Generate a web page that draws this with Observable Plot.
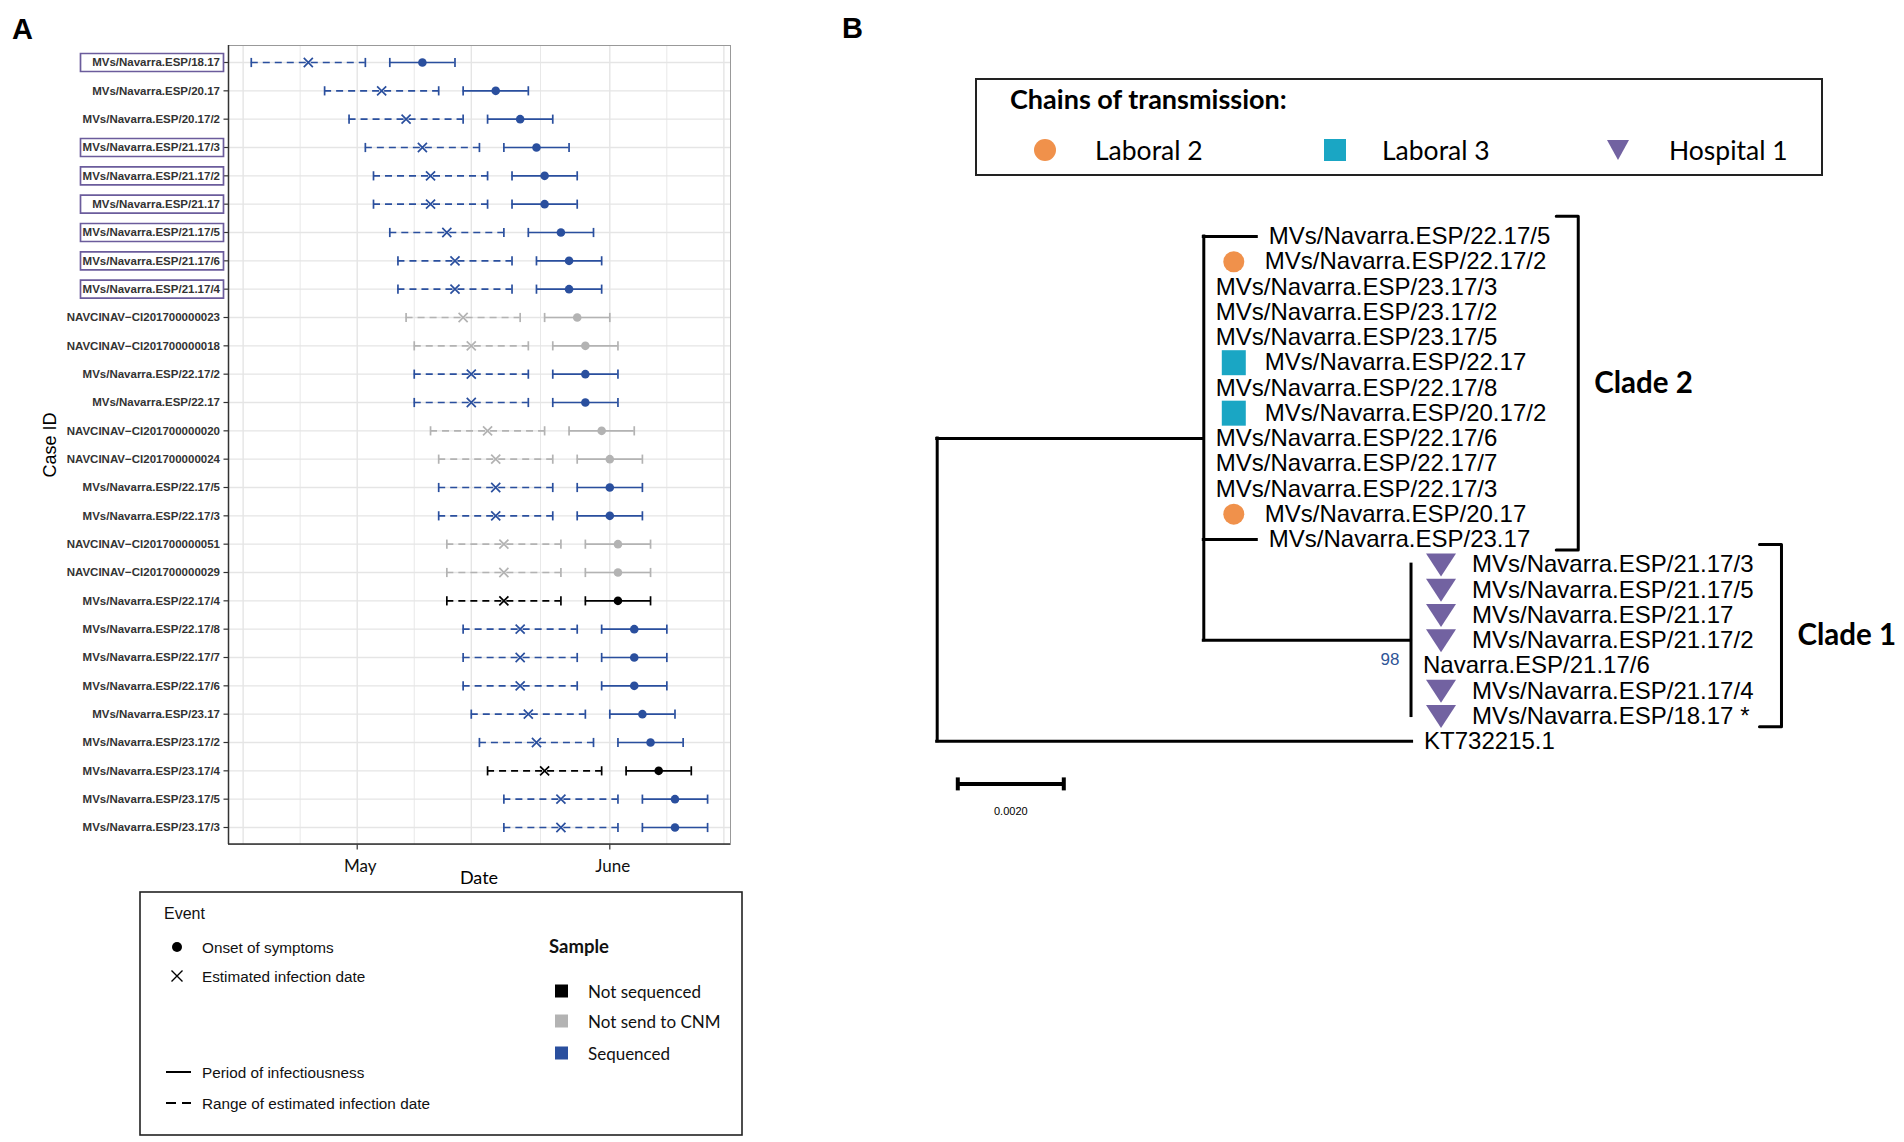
<!DOCTYPE html>
<html><head><meta charset="utf-8">
<script src="https://cdn.jsdelivr.net/npm/d3@7"></script>
<script src="https://cdn.jsdelivr.net/npm/@observablehq/plot@0.6"></script>
<style>
body{margin:0;background:#fff;}
#fig{position:relative;width:1904px;height:1142px;background:#fff;overflow:hidden;font-family:"Liberation Sans",Arial,sans-serif;}
#fig svg{max-width:none;}
</style></head><body><div id="fig"></div>
<script>
// ---------------- Panel A data ----------------
const M = "\u2212";
const caseIds = ["MVs/Navarra.ESP/18.17","MVs/Navarra.ESP/20.17","MVs/Navarra.ESP/20.17/2","MVs/Navarra.ESP/21.17/3","MVs/Navarra.ESP/21.17/2","MVs/Navarra.ESP/21.17","MVs/Navarra.ESP/21.17/5","MVs/Navarra.ESP/21.17/6","MVs/Navarra.ESP/21.17/4","NAVCINAV"+M+"CI201700000023","NAVCINAV"+M+"CI201700000018","MVs/Navarra.ESP/22.17/2","MVs/Navarra.ESP/22.17","NAVCINAV"+M+"CI201700000020","NAVCINAV"+M+"CI201700000024","MVs/Navarra.ESP/22.17/5","MVs/Navarra.ESP/22.17/3","NAVCINAV"+M+"CI201700000051","NAVCINAV"+M+"CI201700000029","MVs/Navarra.ESP/22.17/4","MVs/Navarra.ESP/22.17/8","MVs/Navarra.ESP/22.17/7","MVs/Navarra.ESP/22.17/6","MVs/Navarra.ESP/23.17","MVs/Navarra.ESP/23.17/2","MVs/Navarra.ESP/23.17/4","MVs/Navarra.ESP/23.17/5","MVs/Navarra.ESP/23.17/3"];
const S="Sequenced", G="Not send to CNM", K="Not sequenced";
const sampleStatus = [S,S,S,S,S,S,S,S,S,G,G,S,S,G,G,S,S,G,G,K,S,S,S,S,S,K,S,S];
const rangeStart = ["2017-04-18","2017-04-27","2017-04-30","2017-05-02","2017-05-03","2017-05-03","2017-05-05","2017-05-06","2017-05-06","2017-05-07","2017-05-08","2017-05-08","2017-05-08","2017-05-10","2017-05-11","2017-05-11","2017-05-11","2017-05-12","2017-05-12","2017-05-12","2017-05-14","2017-05-14","2017-05-14","2017-05-15","2017-05-16","2017-05-17","2017-05-19","2017-05-19"];
const estimatedInfection = ["2017-04-25","2017-05-04","2017-05-07","2017-05-09","2017-05-10","2017-05-10","2017-05-12","2017-05-13","2017-05-13","2017-05-14","2017-05-15","2017-05-15","2017-05-15","2017-05-17","2017-05-18","2017-05-18","2017-05-18","2017-05-19","2017-05-19","2017-05-19","2017-05-21","2017-05-21","2017-05-21","2017-05-22","2017-05-23","2017-05-24","2017-05-26","2017-05-26"];
const rangeEnd = ["2017-05-02","2017-05-11","2017-05-14","2017-05-16","2017-05-17","2017-05-17","2017-05-19","2017-05-20","2017-05-20","2017-05-21","2017-05-22","2017-05-22","2017-05-22","2017-05-24","2017-05-25","2017-05-25","2017-05-25","2017-05-26","2017-05-26","2017-05-26","2017-05-28","2017-05-28","2017-05-28","2017-05-29","2017-05-30","2017-05-31","2017-06-02","2017-06-02"];
const infectiousStart = ["2017-05-05","2017-05-14","2017-05-17","2017-05-19","2017-05-20","2017-05-20","2017-05-22","2017-05-23","2017-05-23","2017-05-24","2017-05-25","2017-05-25","2017-05-25","2017-05-27","2017-05-28","2017-05-28","2017-05-28","2017-05-29","2017-05-29","2017-05-29","2017-05-31","2017-05-31","2017-05-31","2017-06-01","2017-06-02","2017-06-03","2017-06-05","2017-06-05"];
const onsetDates = ["2017-05-09","2017-05-18","2017-05-21","2017-05-23","2017-05-24","2017-05-24","2017-05-26","2017-05-27","2017-05-27","2017-05-28","2017-05-29","2017-05-29","2017-05-29","2017-05-31","2017-06-01","2017-06-01","2017-06-01","2017-06-02","2017-06-02","2017-06-02","2017-06-04","2017-06-04","2017-06-04","2017-06-05","2017-06-06","2017-06-07","2017-06-09","2017-06-09"];
const infectiousEnd = ["2017-05-13","2017-05-22","2017-05-25","2017-05-27","2017-05-28","2017-05-28","2017-05-30","2017-05-31","2017-05-31","2017-06-01","2017-06-02","2017-06-02","2017-06-02","2017-06-04","2017-06-05","2017-06-05","2017-06-05","2017-06-06","2017-06-06","2017-06-06","2017-06-08","2017-06-08","2017-06-08","2017-06-09","2017-06-10","2017-06-11","2017-06-13","2017-06-13"];
const hospitalChainCases = ["MVs/Navarra.ESP/18.17","MVs/Navarra.ESP/21.17/3","MVs/Navarra.ESP/21.17/2","MVs/Navarra.ESP/21.17","MVs/Navarra.ESP/21.17/5","MVs/Navarra.ESP/21.17/6","MVs/Navarra.ESP/21.17/4"];
const sampleCategories = ["Not sequenced","Not send to CNM","Sequenced"];
const sampleColors = ["#000000","#b3b3b3","#2a4f9e"];
const monthTicks = [{date:"2017-05-01",label:"May"},{date:"2017-06-01",label:"June"}];
const gridMajor = ["2017-04-17","2017-05-01","2017-05-15","2017-06-01","2017-06-15"];
const gridMinor = ["2017-04-24","2017-05-08","2017-05-23T12:00:00Z","2017-06-08"];

// ---------------- Panel B data ----------------
const treeLeaves = ["MVs/Navarra.ESP/22.17/5","MVs/Navarra.ESP/22.17/2","MVs/Navarra.ESP/23.17/3","MVs/Navarra.ESP/23.17/2","MVs/Navarra.ESP/23.17/5","MVs/Navarra.ESP/22.17","MVs/Navarra.ESP/22.17/8","MVs/Navarra.ESP/20.17/2","MVs/Navarra.ESP/22.17/6","MVs/Navarra.ESP/22.17/7","MVs/Navarra.ESP/22.17/3","MVs/Navarra.ESP/20.17","MVs/Navarra.ESP/23.17","MVs/Navarra.ESP/21.17/3","MVs/Navarra.ESP/21.17/5","MVs/Navarra.ESP/21.17","MVs/Navarra.ESP/21.17/2","Navarra.ESP/21.17/6","MVs/Navarra.ESP/21.17/4","MVs/Navarra.ESP/18.17 *","KT732215.1"];
const leafParents = ["c2","c2","c2","c2","c2","c2","c2","c2","c2","c2","c2","c2","c2","c1","c1","c1","c1","c1","c1","c1","root"];
const leafBranchLengths = [0.001,0,0,0,0,0,0,0,0,0,0,0,0.001,0,0,0,0,0,0,0,0.00896];
const leafChains = [null,"Laboral 2",null,null,null,"Laboral 3",null,"Laboral 3",null,null,null,"Laboral 2",null,"Hospital 1","Hospital 1","Hospital 1","Hospital 1",null,"Hospital 1","Hospital 1",null];
const internalNodes = ["root","c2","c1"];
const internalParents = [null,"root","c2"];
const internalBranchLengths = [0,0.00503,0.00391];
const bootstrapValues = [{node:"c1", value:"98"}];
const clades = [{name:"Clade 2", first:0, last:12},{name:"Clade 1", first:13, last:19}];
const chainNames = ["Laboral 2","Laboral 3","Hospital 1"];
const chainColors = ["#f0914b","#1aa6c4","#7262a1"];
const scaleBar = {length:0.002, label:"0.0020"};

// ---------------- helpers ----------------
const fig = document.getElementById("fig");
function place(el,left,top){el.style.position="absolute";el.style.left=left+"px";el.style.top=top+"px";fig.appendChild(el);}
const vbar = {draw(c,size){const h=Math.sqrt(size/Math.PI);c.moveTo(0,-h);c.lineTo(0,h);}};
const hbar = {draw(c,size){const h=Math.sqrt(size/Math.PI);c.moveTo(-h,0);c.lineTo(h,0);}};
const boxSym = {draw(c){c.rect(-148,-9,143,18);}};
const circleSym = {draw(c){c.moveTo(10.5,0);c.arc(0,0,10.5,0,2*Math.PI);}};
const squareSym = {draw(c){c.rect(-12,-12.5,24,25);}};
const triSym = {draw(c){c.moveTo(-15,-11);c.lineTo(15,-11);c.lineTo(0,12);c.closePath();}};
const chainSymbols = [circleSym, squareSym, triSym];

// ---------------- Panel A plot ----------------
const rowsA = caseIds.map((id,i)=>({id, status:sampleStatus[i], rs:new Date(rangeStart[i]), est:new Date(estimatedInfection[i]), re:new Date(rangeEnd[i]), is:new Date(infectiousStart[i]), onset:new Date(onsetDates[i]), ie:new Date(infectiousEnd[i])}));
const W_A=760, H_A=900, mL=228, mR=30, mT=45, mB=56;
const xDomainA = [new Date("2017-04-15T04:55:00Z"), new Date("2017-06-15T19:30:00Z")];
const x0 = () => xDomainA[0];
const lw = 1.7;
const plotA = Plot.plot({
  width:W_A, height:H_A, marginLeft:mL, marginRight:mR, marginTop:mT, marginBottom:mB,
  style:{fontFamily:"Liberation Sans, Arial, sans-serif", background:"transparent", overflow:"visible"},
  x:{type:"utc", domain:xDomainA, axis:null},
  y:{type:"point", domain:caseIds, padding:0.6, round:false, axis:null},
  color:{domain:sampleCategories, range:sampleColors},
  marks:[
    Plot.ruleX(gridMinor.map(d=>new Date(d)), {stroke:"#e8e8e8", strokeWidth:1}),
    Plot.ruleX(gridMajor.map(d=>new Date(d)), {stroke:"#e3e3e3", strokeWidth:1.3}),
    Plot.ruleY(caseIds, {stroke:"#e5e5e5", strokeWidth:1.3}),
    Plot.frame({stroke:"#999", strokeWidth:1}),
    Plot.ruleX([xDomainA[0]], {stroke:"#333", strokeWidth:1.5}),
    Plot.ruleY(rowsA, {y:"id", x1:"rs", x2:"re", stroke:"status", strokeWidth:lw, strokeDasharray:"7,5"}),
    Plot.ruleY(rowsA, {y:"id", x1:"is", x2:"ie", stroke:"status", strokeWidth:lw}),
    Plot.dot(rowsA, {x:"rs", y:"id", symbol:vbar, r:4.6, stroke:"status", strokeWidth:lw, fill:"none"}),
    Plot.dot(rowsA, {x:"re", y:"id", symbol:vbar, r:4.6, stroke:"status", strokeWidth:lw, fill:"none"}),
    Plot.dot(rowsA, {x:"is", y:"id", symbol:vbar, r:4.6, stroke:"status", strokeWidth:lw, fill:"none"}),
    Plot.dot(rowsA, {x:"ie", y:"id", symbol:vbar, r:4.6, stroke:"status", strokeWidth:lw, fill:"none"}),
    Plot.dot(rowsA, {x:"est", y:"id", symbol:"times", r:4.2, stroke:"status", strokeWidth:lw, fill:"none"}),
    Plot.dot(rowsA, {x:"onset", y:"id", r:4.3, fill:"status", stroke:"none"}),
    Plot.dot(rowsA, {x:x0, y:"id", symbol:hbar, r:2.5, dx:-2.5, stroke:"#333", strokeWidth:1.2, fill:"none"}),
    Plot.text(rowsA, {x:x0, y:"id", text:"id", textAnchor:"end", dx:-8.5, fontSize:11.5, fontWeight:"bold", fill:"#333"}),
    Plot.dot(hospitalChainCases, {x:x0, y:d=>d, symbol:boxSym, stroke:"#6b5c9c", strokeWidth:1.7, fill:"none"}),
    Plot.dot(monthTicks, {x:d=>new Date(d.date), frameAnchor:"bottom", symbol:vbar, r:2.5, dy:2.5, stroke:"#333", strokeWidth:1.2, fill:"none"}),
    Plot.text(monthTicks, {x:d=>new Date(d.date), text:"label", frameAnchor:"bottom", lineAnchor:"top", dy:15, dx:3, fontFamily:"Lato, sans-serif", fontSize:17, fill:"#111"})
  ]
});
{
  const xr = plotA.scale("x").range;
  d3.select(plotA).append("line").attr("x1",xr[0]).attr("x2",xr[1]).attr("y1",H_A-mB).attr("y2",H_A-mB).attr("stroke","#333").attr("stroke-width",1.5);
}
place(plotA,0,0);

// ---------------- Panel B tree ----------------
const nodes = new Map();
internalNodes.forEach((id,i)=>nodes.set(id,{id, parent:internalParents[i], len:internalBranchLengths[i], leaf:false, children:[]}));
treeLeaves.forEach((name,i)=>nodes.set(name,{id:name, name, parent:leafParents[i], len:leafBranchLengths[i], leaf:true, chain:leafChains[i], y:i, children:[]}));
for (const n of nodes.values()) if (n.parent) nodes.get(n.parent).children.push(n);
(function setX(n, base){ n.x = base + n.len; n.children.forEach(c=>setX(c,n.x)); })(nodes.get("root"), 0);
(function setY(n){ if (n.leaf) return n.y; const ys = n.children.map(setY); n.y = (d3.min(ys)+d3.max(ys))/2; n.ymin=d3.min(ys); n.ymax=d3.max(ys); return n.y; })(nodes.get("root"));
const internals = internalNodes.map(id=>nodes.get(id));
const leaves = treeLeaves.map(n=>nodes.get(n));
const horizontals = [...nodes.values()].filter(n=>n.parent && n.len>0).map(n=>({x1:nodes.get(n.parent).x, x2:n.x, y:n.y}));

const W_T=1004, H_T=640;
const xDomT=[0,0.016], xRangeT=[36.7,884.7];
const xsT = Plot.scale({x:{domain:xDomT, range:xRangeT}});
const treeFont = 24;
const ctx = document.createElement("canvas").getContext("2d");
ctx.font = treeFont+"px 'Liberation Sans', Arial, sans-serif";
const labelDx = n => n.chain ? 61 : 12;
const bracketPts = [], cladeLabels = [];
for (const c of clades) {
  const ls = leaves.slice(c.first, c.last+1);
  const endPx = d3.max(ls, n => xsT.apply(n.x) + labelDx(n) + ctx.measureText(n.name).width);
  const bx = xsT.invert(endPx + 28), tx = xsT.invert(endPx + 6);
  const y1 = c.first - 0.8, y2 = c.last + 0.42;
  bracketPts.push({clade:c.name,x:tx,y:y1},{clade:c.name,x:bx,y:y1},{clade:c.name,x:bx,y:y2},{clade:c.name,x:tx,y:y2});
  cladeLabels.push({name:c.name, x:bx, y:(y1+y2)/2});
}
const bootRows = bootstrapValues.map(b=>({x:nodes.get(b.node).x, y:nodes.get(b.node).y, value:b.value}));
const lastRow = treeLeaves.length-1;
const treeMarks = [
  Plot.ruleX(internals, {x:"x", y1:"ymin", y2:"ymax", stroke:"#000", strokeWidth:3, strokeLinecap:"square"}),
  Plot.ruleY(horizontals, {x1:"x1", x2:"x2", y:"y", stroke:"#000", strokeWidth:3, strokeLinecap:"square"}),
  Plot.text(leaves.filter(n=>!n.chain), {x:"x", y:"y", text:"name", dx:12, textAnchor:"start", fontSize:treeFont, fill:"#000"}),
  Plot.text(leaves.filter(n=>n.chain), {x:"x", y:"y", text:"name", dx:61, textAnchor:"start", fontSize:treeFont, fill:"#000"}),
  Plot.text(bootRows, {x:"x", y:"y", text:"value", dx:-21, dy:19, fontSize:17, fill:"#2f5597"}),
  Plot.line(bracketPts, {x:"x", y:"y", z:"clade", stroke:"#000", strokeWidth:3, strokeLinejoin:"round"}),
  Plot.text(cladeLabels, {x:"x", y:"y", text:"name", dx:16, textAnchor:"start", fontFamily:"Lato, sans-serif", fontWeight:"bold", fontSize:29.5, fill:"#000"}),
  Plot.ruleY([scaleBar], {x1:()=>0, x2:d=>d.length, y:()=>lastRow, dx:20.6, dy:42.6, stroke:"#000", strokeWidth:4}),
  Plot.dot([0, scaleBar.length], {x:d=>d, y:()=>lastRow, dx:20.6, dy:42.6, symbol:vbar, r:6.5, stroke:"#000", strokeWidth:4, fill:"none"}),
  Plot.text([scaleBar], {x:d=>d.length/2, y:()=>lastRow, dx:20.6, dy:70, text:"label", fontSize:11, fill:"#000"})
];
chainNames.forEach((ch,i)=>{
  treeMarks.push(Plot.dot(leaves.filter(n=>n.chain===ch), {x:"x", y:"y", dx:30, symbol:chainSymbols[i], fill:chainColors[i], stroke:"none"}));
});
const plotT = Plot.plot({
  width:W_T, height:H_T, margin:0,
  style:{fontFamily:"Liberation Sans, Arial, sans-serif", background:"transparent", overflow:"visible"},
  x:{domain:xDomT, range:xRangeT, axis:null},
  y:{domain:[0,lastRow], range:[36,540.8], axis:null},
  marks:treeMarks
});
place(plotT,900,200);

// ---------------- Annotations, titles and legends ----------------
const lato = "Lato, sans-serif", lib = "Liberation Sans, Arial, sans-serif";
const ann = `<svg xmlns="http://www.w3.org/2000/svg" width="1904" height="1142" style="position:absolute;left:0;top:0;pointer-events:none">
<text x="12" y="39" font-family="${lib}" font-weight="bold" font-size="29">A</text>
<text x="842" y="38" font-family="${lib}" font-weight="bold" font-size="29">B</text>
<text transform="translate(56,445) rotate(-90)" text-anchor="middle" font-family="${lib}" font-size="18">Case ID</text>
<text x="479" y="884" text-anchor="middle" font-family="${lato}" font-size="18">Date</text>
<rect x="140" y="892" width="602" height="243" fill="none" stroke="#222" stroke-width="1.6"/>
<g font-family="${lib}" font-size="15.3" dominant-baseline="central" fill="#111">
<text x="164" y="913" font-size="16">Event</text>
<circle cx="177" cy="947" r="5" fill="#000"/>
<text x="202" y="947">Onset of symptoms</text>
<path d="M171.5,970.5L182.5,981.5M182.5,970.5L171.5,981.5" stroke="#000" stroke-width="1.4"/>
<text x="202" y="976">Estimated infection date</text>
<line x1="166" x2="191" y1="1072" y2="1072" stroke="#000" stroke-width="2"/>
<text x="202" y="1072">Period of infectiousness</text>
<line x1="166" x2="176" y1="1103" y2="1103" stroke="#000" stroke-width="2"/>
<line x1="182" x2="191" y1="1103" y2="1103" stroke="#000" stroke-width="2"/>
<text x="202" y="1103">Range of estimated infection date</text>
</g>
<g font-family="${lato}" dominant-baseline="central" fill="#111">
<text x="549" y="946" font-size="18.5" font-weight="bold">Sample</text>
<rect x="555" y="984.5" width="13" height="13" fill="${sampleColors[0]}"/>
<text x="588" y="991" font-size="17">${sampleCategories[0]}</text>
<rect x="555" y="1014.5" width="13" height="13" fill="${sampleColors[1]}"/>
<text x="588" y="1021" font-size="17">${sampleCategories[1]}</text>
<rect x="555" y="1046.5" width="13" height="13" fill="${sampleColors[2]}"/>
<text x="588" y="1053" font-size="17">${sampleCategories[2]}</text>
</g>
<rect x="976" y="79" width="846" height="96" fill="none" stroke="#222" stroke-width="2"/>
<g font-family="${lato}" dominant-baseline="central" fill="#000">
<text x="1010" y="98.5" font-size="27" font-weight="bold">Chains of transmission:</text>
<circle cx="1045" cy="150" r="11" fill="${chainColors[0]}"/>
<text x="1095" y="150" font-size="26.5">${chainNames[0]}</text>
<rect x="1324" y="139" width="22" height="22" fill="${chainColors[1]}"/>
<text x="1382" y="150" font-size="26.5">${chainNames[1]}</text>
<path d="M1607,140L1629,140L1618,160Z" fill="${chainColors[2]}"/>
<text x="1669" y="150" font-size="26.5">${chainNames[2]}</text>
</g>
</svg>`;
fig.insertAdjacentHTML("beforeend", ann);
</script>
</body></html>
